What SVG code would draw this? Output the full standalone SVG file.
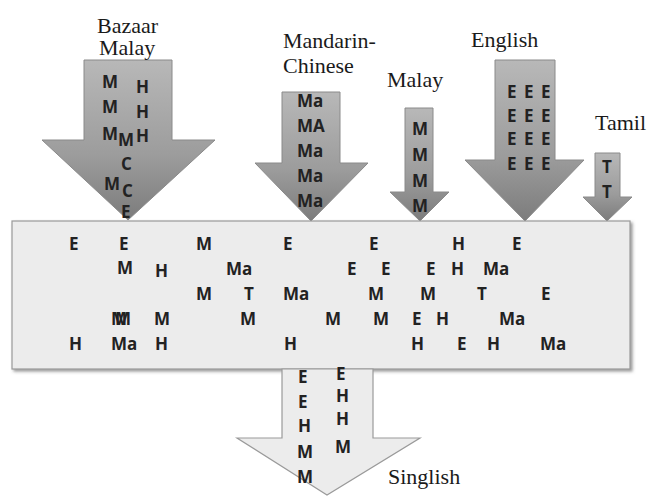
<svg xmlns="http://www.w3.org/2000/svg" width="651" height="496" viewBox="0 0 651 496">
<defs>
<linearGradient id="g" x1="0" y1="0" x2="0" y2="1">
<stop offset="0" stop-color="#b8b8b8"/>
<stop offset="0.6" stop-color="#9c9c9c"/>
<stop offset="1" stop-color="#7c7c7c"/>
</linearGradient>
<filter id="sh" x="-5%" y="-5%" width="110%" height="115%">
<feDropShadow dx="2" dy="2" stdDeviation="1.5" flood-color="#555" flood-opacity="0.6"/>
</filter>
</defs>
<style>
.lbl{font-family:'Liberation Serif','DejaVu Serif','Times New Roman',serif;font-size:22px;fill:#1a1a1a}
.ch{font-family:'Open Sans','Liberation Sans',sans-serif;font-size:17px;font-weight:700;fill:#222}
.arr{fill:url(#g);stroke:#8a8a8a;stroke-width:1}
</style>
<rect width="651" height="496" fill="#ffffff"/>

<g id="bazaar-malay">
<polygon class="arr" points="84,60 172,60 172,140 215,140 128,220 42,140 84,140"/>
<text class="lbl" x="97" y="33">Bazaar</text>
<text class="lbl" x="99" y="55">Malay</text>
<text class="ch" x="102" y="88">M</text>
<text class="ch" x="136" y="93">H</text>
<text class="ch" x="102" y="113">M</text>
<text class="ch" x="136" y="118">H</text>
<text class="ch" x="102" y="140">M</text>
<text class="ch" x="118" y="146">M</text>
<text class="ch" x="136" y="142">H</text>
<text class="ch" x="121" y="170">C</text>
<text class="ch" x="104" y="190">M</text>
<text class="ch" x="122" y="197">C</text>
<text class="ch" x="121" y="218">E</text>
</g>

<g id="mandarin-chinese">
<polygon class="arr" points="282,92 340,92 340,163 368,163 311,221 255,163 282,163"/>
<text class="lbl" x="283" y="48">Mandarin-</text>
<text class="lbl" x="283" y="73">Chinese</text>
<text class="ch" x="297" y="107">Ma</text>
<text class="ch" x="297" y="132">MA</text>
<text class="ch" x="297" y="157">Ma</text>
<text class="ch" x="297" y="182">Ma</text>
<text class="ch" x="297" y="207">Ma</text>
</g>

<g id="malay">
<polygon class="arr" points="405,108 433,108 433,192 449,192 420,221 390,192 405,192"/>
<text class="lbl" x="387" y="87">Malay</text>
<text class="ch" x="412" y="135">M</text>
<text class="ch" x="412" y="161">M</text>
<text class="ch" x="412" y="187">M</text>
<text class="ch" x="412" y="212">M</text>
</g>

<g id="english">
<polygon class="arr" points="495,60 555,60 555,160 584,160 525,221 465,160 495,160"/>
<text class="lbl" x="471" y="47">English</text>
<text class="ch" x="507" y="98">E</text><text class="ch" x="524" y="98">E</text><text class="ch" x="541" y="98">E</text>
<text class="ch" x="507" y="122">E</text><text class="ch" x="524" y="122">E</text><text class="ch" x="541" y="122">E</text>
<text class="ch" x="507" y="145">E</text><text class="ch" x="524" y="145">E</text><text class="ch" x="541" y="145">E</text>
<text class="ch" x="507" y="170">E</text><text class="ch" x="524" y="170">E</text><text class="ch" x="541" y="170">E</text>
</g>

<g id="tamil">
<polygon class="arr" points="595,153 620,153 620,197 632,197 607,221 583,197 595,197"/>
<text class="lbl" x="595" y="130">Tamil</text>
<text class="ch" x="602" y="173">T</text>
<text class="ch" x="602" y="198">T</text>
</g>

<g id="pool">
<rect x="12" y="221" width="618" height="148" fill="#ececec" stroke="#9a9a9a" stroke-width="1.2" filter="url(#sh)"/>
<text class="ch" x="69" y="250">E</text>
<text class="ch" x="119" y="250">E</text>
<text class="ch" x="196" y="250">M</text>
<text class="ch" x="283" y="250">E</text>
<text class="ch" x="369" y="250">E</text>
<text class="ch" x="452" y="250">H</text>
<text class="ch" x="512" y="250">E</text>

<text class="ch" x="117" y="274">M</text>
<text class="ch" x="155" y="277">H</text>
<text class="ch" x="226" y="275">Ma</text>
<text class="ch" x="347" y="275">E</text>
<text class="ch" x="381" y="275">E</text>
<text class="ch" x="426" y="275">E</text>
<text class="ch" x="451" y="275">H</text>
<text class="ch" x="483" y="275">Ma</text>

<text class="ch" x="196" y="300">M</text>
<text class="ch" x="244" y="300">T</text>
<text class="ch" x="283" y="300">Ma</text>
<text class="ch" x="368" y="300">M</text>
<text class="ch" x="420" y="300">M</text>
<text class="ch" x="477" y="300">T</text>
<text class="ch" x="541" y="300">E</text>

<text class="ch" x="111" y="325">M</text>
<text class="ch" x="115" y="325">M</text>
<text class="ch" x="154" y="325">M</text>
<text class="ch" x="240" y="325">M</text>
<text class="ch" x="325" y="325">M</text>
<text class="ch" x="373" y="325">M</text>
<text class="ch" x="412" y="325">E</text>
<text class="ch" x="436" y="325">H</text>
<text class="ch" x="499" y="325">Ma</text>

<text class="ch" x="69" y="350">H</text>
<text class="ch" x="111" y="350">Ma</text>
<text class="ch" x="155" y="350">H</text>
<text class="ch" x="284" y="350">H</text>
<text class="ch" x="411" y="350">H</text>
<text class="ch" x="457" y="350">E</text>
<text class="ch" x="487" y="350">H</text>
<text class="ch" x="540" y="350">Ma</text>
</g>

<g id="singlish">
<polygon points="282,369 373,369 373,438 420,438 327,495 237,438 282,438" fill="#ececec" stroke="#9a9a9a" stroke-width="1.2"/>
<text class="lbl" x="388" y="484">Singlish</text>
<text class="ch" x="298" y="383">E</text>
<text class="ch" x="298" y="408">E</text>
<text class="ch" x="298" y="432">H</text>
<text class="ch" x="297" y="458">M</text>
<text class="ch" x="297" y="483">M</text>
<text class="ch" x="336" y="380">E</text>
<text class="ch" x="336" y="402">H</text>
<text class="ch" x="336" y="425">H</text>
<text class="ch" x="335" y="453">M</text>
</g>
</svg>
